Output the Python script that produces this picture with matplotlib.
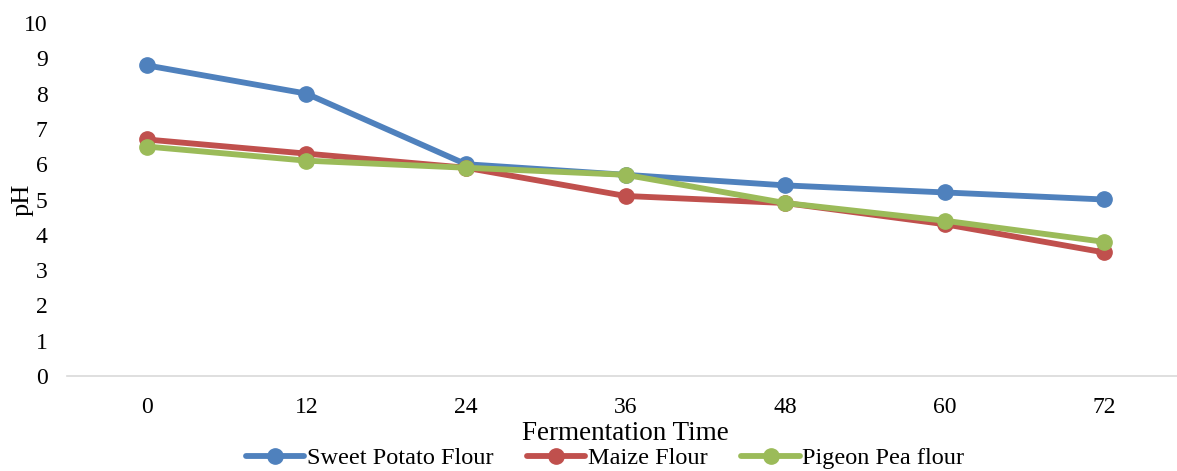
import matplotlib.pyplot as plt

plt.rcParams['font.family'] = ['Liberation Serif', 'DejaVu Serif']

hours = [0, 12, 24, 36, 48, 60, 72]
sweet_potato = [8.8, 8.0, 6.0, 5.7, 5.4, 5.2, 5.0]
maize = [6.7, 6.3, 5.9, 5.1, 4.9, 4.3, 3.5]
pigeon_pea = [6.5, 6.1, 5.9, 5.7, 4.9, 4.4, 3.8]

series = [
    ('Sweet Potato Flour', sweet_potato, '#4F81BD'),
    ('Maize Flour', maize, '#C0504D'),
    ('Pigeon Pea flour', pigeon_pea, '#9BBB59'),
]

fig = plt.figure(figsize=(11.77, 4.71), dpi=100)
ax = fig.add_axes([67 / 1177, 95 / 471, 1117 / 1177, 353 / 471])

for name, vals, col in series:
    ax.plot(hours, vals, color=col, lw=4.2, marker='o', ms=11,
            solid_capstyle='round', label=name)

ax.set_xlim(-6, 78)
ax.set_ylim(0, 10)
ax.set_xticks(hours)
ax.set_xticklabels([str(h) for h in hours])
ax.set_yticks(range(0, 11))
ax.tick_params(axis='both', length=0, labelsize=17)
ax.tick_params(axis='y', pad=14)
ax.tick_params(axis='x', pad=15)

for s in ['top', 'right', 'left']:
    ax.spines[s].set_visible(False)
ax.spines['bottom'].set_color('#D9D9D9')
ax.spines['bottom'].set_linewidth(1.2)

ax.set_xlabel('Fermentation Time', fontsize=19.5, labelpad=2)
ax.set_ylabel('pH', fontsize=19)
ax.yaxis.set_label_coords(-0.03, 0.5)

fig.legend(loc='center', bbox_to_anchor=(605 / 1177, 1 - 458 / 471), ncol=3,
           frameon=False, fontsize=17.5, handlelength=2.4, handletextpad=0.1,
           columnspacing=1.4, borderaxespad=0)

fig.savefig('out.png', dpi=100)
